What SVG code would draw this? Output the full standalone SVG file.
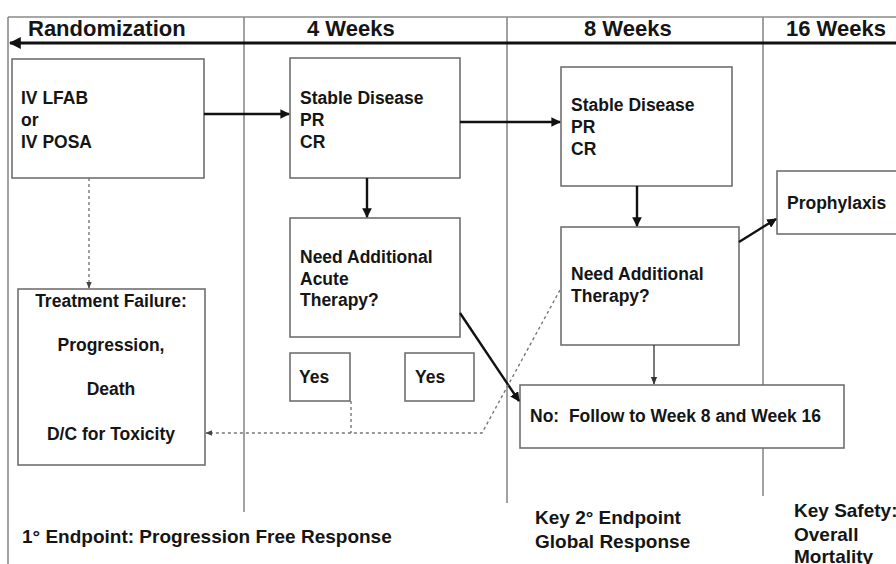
<svg xmlns="http://www.w3.org/2000/svg" width="896" height="564" viewBox="0 0 896 564">
<style>
text{font-family:"Liberation Sans",Arial,sans-serif;font-weight:bold;fill:#151515}
.hdr{font-size:22px}
.body{font-size:17.5px}
.foot{font-size:19px}
.box{fill:#fff;stroke:#707070;stroke-width:1.6}
.grid{stroke:#8a8a8a;stroke-width:1.6;fill:none}
.solid{stroke:#111;stroke-width:2.4;fill:none}
.thin{stroke:#333;stroke-width:1.3;fill:none}
.dash{stroke:#777;stroke-width:1.4;stroke-dasharray:3 3;fill:none}
</style>
<defs>
<marker id="ah" viewBox="0 0 10 10" refX="9" refY="5" markerWidth="4" markerHeight="4" orient="auto-start-reverse" markerUnits="strokeWidth">
<path d="M0,0 L10,5 L0,10 z" fill="#111"/>
</marker>
<marker id="ahs" viewBox="0 0 10 10" refX="9" refY="5" markerWidth="6" markerHeight="6" orient="auto-start-reverse" markerUnits="strokeWidth">
<path d="M0,1 L10,5 L0,9 z" fill="#333"/>
</marker>
<marker id="ahd" viewBox="0 0 10 10" refX="9" refY="5" markerWidth="5" markerHeight="5" orient="auto-start-reverse" markerUnits="strokeWidth">
<path d="M0,1 L10,5 L0,9 z" fill="#444"/>
</marker>
</defs>
<rect width="896" height="564" fill="#fff"/>

<g id="timeline">
<line class="grid" x1="8" y1="17" x2="896" y2="17"/>
<line class="grid" x1="8" y1="17" x2="8" y2="564"/>
<line class="grid" x1="244" y1="17" x2="244" y2="512"/>
<line class="grid" x1="507" y1="17" x2="507" y2="503"/>
<line class="grid" x1="763" y1="17" x2="763" y2="496"/>
<line x1="896" y1="43" x2="10" y2="43" stroke="#111" stroke-width="3" marker-end="url(#ah)"/>
<text class="hdr" x="28" y="36">Randomization</text>
<text class="hdr" x="307" y="36">4 Weeks</text>
<text class="hdr" x="584" y="36">8 Weeks</text>
<text class="hdr" x="786" y="36">16 Weeks</text>
</g>

<g id="n-iv">
<rect class="box" x="12" y="59" width="192" height="119"/>
<text class="body" x="21" y="104">IV LFAB</text>
<text class="body" x="21" y="126">or</text>
<text class="body" x="21" y="148">IV POSA</text>
</g>

<g id="n-sd4">
<rect class="box" x="290" y="58" width="170" height="120"/>
<text class="body" x="300" y="104">Stable Disease</text>
<text class="body" x="300" y="126">PR</text>
<text class="body" x="300" y="148">CR</text>
</g>

<g id="n-need4">
<rect class="box" x="290" y="218" width="170" height="119"/>
<text class="body" x="300" y="263">Need Additional</text>
<text class="body" x="300" y="285">Acute</text>
<text class="body" x="300" y="306">Therapy?</text>
</g>

<g id="n-yes1">
<rect class="box" x="290" y="353" width="60" height="48"/>
<text class="body" x="299" y="383">Yes</text>
</g>

<g id="n-yes2">
<rect class="box" x="405" y="353" width="69" height="48"/>
<text class="body" x="415" y="383">Yes</text>
</g>

<g id="n-sd8">
<rect class="box" x="561" y="67" width="171" height="119"/>
<text class="body" x="571" y="111">Stable Disease</text>
<text class="body" x="571" y="133">PR</text>
<text class="body" x="571" y="155">CR</text>
</g>

<g id="n-need8">
<rect class="box" x="561" y="227" width="178" height="118"/>
<text class="body" x="571" y="280">Need Additional</text>
<text class="body" x="571" y="302">Therapy?</text>
</g>

<g id="n-proph">
<rect class="box" x="777" y="171" width="125" height="63"/>
<text class="body" x="787" y="209">Prophylaxis</text>
</g>

<g id="n-no">
<rect class="box" x="520" y="385" width="324" height="63"/>
<text class="body" x="530" y="422" xml:space="preserve">No:  Follow to Week 8 and Week 16</text>
</g>

<g id="n-tf">
<rect class="box" x="18" y="289" width="187" height="176"/>
<text class="body" x="111" y="307" text-anchor="middle">Treatment Failure:</text>
<text class="body" x="111" y="351" text-anchor="middle">Progression,</text>
<text class="body" x="111" y="395" text-anchor="middle">Death</text>
<text class="body" x="111" y="440" text-anchor="middle">D/C for Toxicity</text>
</g>

<g id="connectors">
<line class="solid" x1="204" y1="114" x2="289" y2="114" marker-end="url(#ah)"/>
<line class="solid" x1="460" y1="122" x2="560" y2="122" marker-end="url(#ah)"/>
<line class="solid" x1="367" y1="178" x2="367" y2="217" marker-end="url(#ah)"/>
<line class="solid" x1="637" y1="186" x2="637" y2="226" marker-end="url(#ah)"/>
<line class="solid" x1="739" y1="242" x2="776" y2="219" marker-end="url(#ah)"/>
<line class="solid" x1="460" y1="313" x2="519" y2="401" marker-end="url(#ah)"/>
<line class="thin" x1="654" y1="345" x2="654" y2="384" marker-end="url(#ahs)"/>
<line class="dash" x1="89" y1="178" x2="89" y2="288" marker-end="url(#ahd)"/>
<polyline class="dash" points="560,290 482,433 206,433" marker-end="url(#ahd)"/>
<line class="dash" x1="351" y1="401" x2="351" y2="433"/>
</g>

<g id="footer">
<text class="foot" x="22" y="543">1° Endpoint: Progression Free Response</text>
<text class="foot" x="535" y="524">Key 2° Endpoint</text>
<text class="foot" x="535" y="548">Global Response</text>
<text class="foot" x="794" y="517">Key Safety:</text>
<text class="foot" x="794" y="541">Overall</text>
<text class="foot" x="794" y="563">Mortality</text>
</g>
</svg>
